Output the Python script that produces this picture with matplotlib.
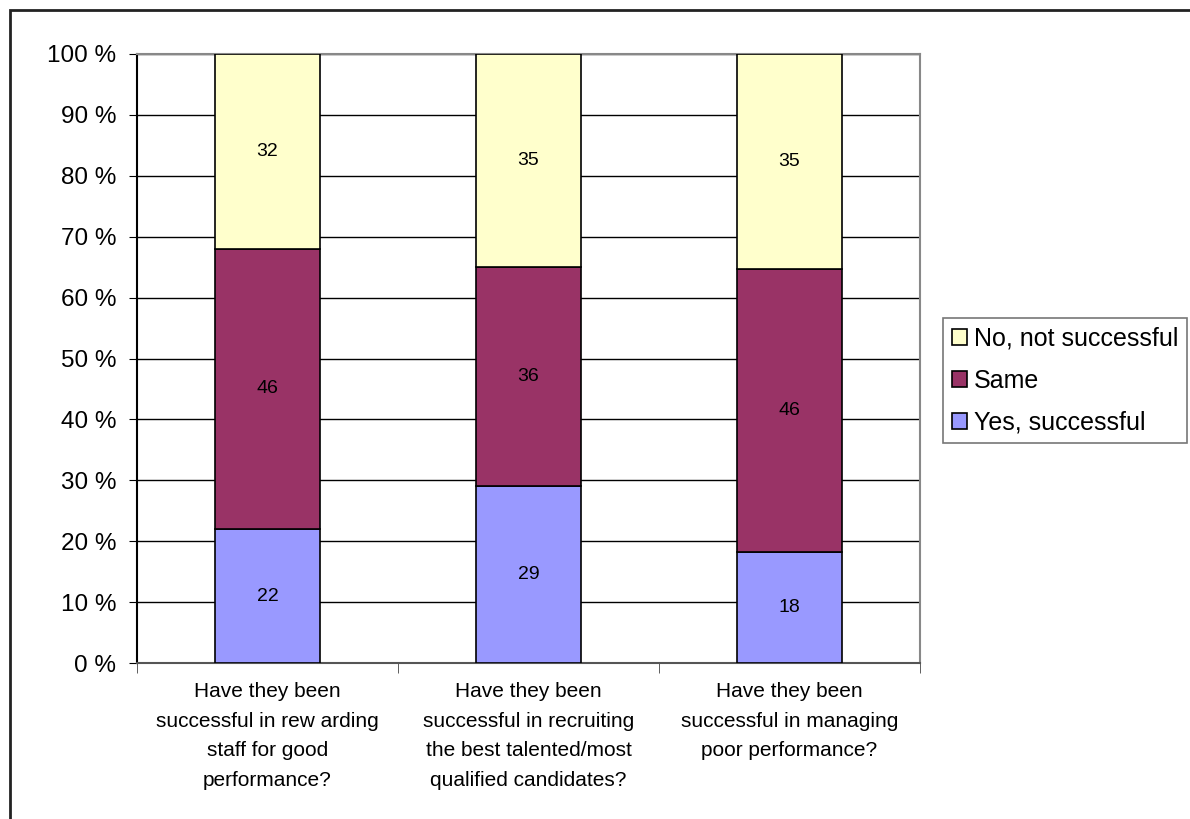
import matplotlib.pyplot as plt
import numpy as np
from matplotlib.patches import Rectangle

plt.rcParams['font.family'] = ['Liberation Sans', 'DejaVu Sans']

categories = ['Have they been\nsuccessful in rew arding\nstaff for good\nperformance?',
              'Have they been\nsuccessful in recruiting\nthe best talented/most\nqualified candidates?',
              'Have they been\nsuccessful in managing\npoor performance?']
yes = np.array([22, 29, 18])
same = np.array([46, 36, 46])
no = np.array([32, 35, 35])

total = yes + same + no
yes_p = yes / total * 100
same_p = same / total * 100
no_p = no / total * 100

fig = plt.figure(figsize=(11.9, 8.19), dpi=100)
ax = fig.add_axes([137/1190, 1 - 663/819, (920-137)/1190, (663-54)/819])

# outer chart border
fig.patches.append(Rectangle((10/1190, -0.1), 1.2, 1 - 10/819 + 0.1, transform=fig.transFigure,
                             fill=False, edgecolor='#222222', linewidth=2))

x = np.arange(len(categories))
w = 0.4
ax.bar(x, yes_p, w, color='#9999FF', edgecolor='black', linewidth=1.2, label='Yes, successful', zorder=3)
ax.bar(x, same_p, w, bottom=yes_p, color='#993366', edgecolor='black', linewidth=1.2, label='Same', zorder=3)
ax.bar(x, no_p, w, bottom=yes_p + same_p, color='#FFFFCC', edgecolor='black', linewidth=1.2,
       label='No, not successful', zorder=3)

for i in range(len(x)):
    ax.text(x[i], yes_p[i] / 2, str(yes[i]), ha='center', va='center', fontsize=14, zorder=4)
    ax.text(x[i], yes_p[i] + same_p[i] / 2, str(same[i]), ha='center', va='center', fontsize=14, zorder=4)
    ax.text(x[i], yes_p[i] + same_p[i] + no_p[i] / 2, str(no[i]), ha='center', va='center', fontsize=14, zorder=4)

ax.set_xlim(-0.5, 2.5)
ax.set_ylim(0, 100)
ax.set_yticks(np.arange(0, 101, 10))
ax.set_yticklabels([f'{v} %' for v in range(0, 101, 10)], fontsize=17.5)
ax.yaxis.grid(True, color='black', linewidth=1, zorder=0)

ax.set_xticks(x)
ax.set_xticklabels(categories, fontsize=15, linespacing=1.7)
ax.tick_params(axis='x', length=0, pad=14)
ax.set_xticks([-0.5, 0.5, 1.5, 2.5], minor=True)
ax.tick_params(axis='x', which='minor', length=7, color='#444444')
ax.tick_params(axis='y', length=6, color='black', pad=9)

ax.spines['left'].set_color('black')
ax.spines['bottom'].set_color('#555555')
ax.spines['top'].set_color('#888888')
ax.spines['right'].set_color('#888888')
for s in ax.spines.values():
    s.set_linewidth(1.5)

h, l = ax.get_legend_handles_labels()
leg = fig.legend(h[::-1], l[::-1], loc='upper left', bbox_to_anchor=(943/1190, 1 - 318/819),
                 fontsize=18, frameon=True, fancybox=False, edgecolor='#555555',
                 handlelength=0.6, handleheight=0.6, handletextpad=0.3, labelspacing=0.72,
                 borderpad=0.35, borderaxespad=0)
leg.get_frame().set_linewidth(1.2)

fig.savefig('out.png', dpi=100)
